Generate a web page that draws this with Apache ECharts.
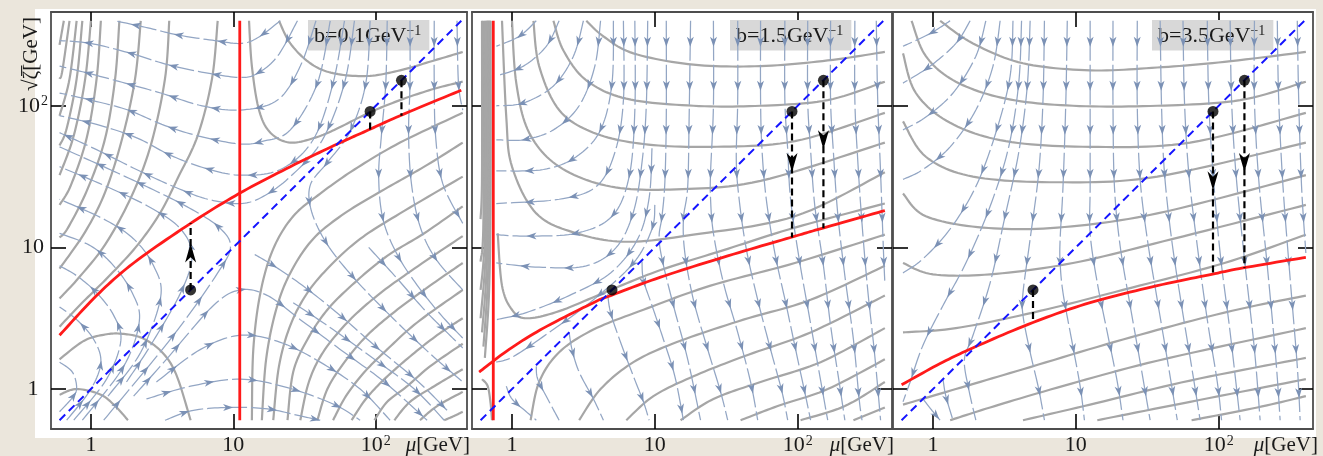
<!DOCTYPE html>
<html>
<head>
<meta charset="utf-8">
<script src="https://cdn.jsdelivr.net/npm/echarts@6.0.0/dist/echarts.min.js"></script>
<style>
html,body{margin:0;padding:0;background:#ebe6dc;}
#chart{width:1323px;height:456px;}
</style>
</head>
<body>
<div id="chart"></div>
<script>
// All coordinates are [log10(mu/GeV), log10(sqrt(zeta)/GeV)].
const tickValues = [0, 1, 2];
const tickText = ['1', '10', '{b|10}{s|2}'];
const panelB = ['0.1', '1.5', '3.5'];
const diagonal = [[-0.22, -0.22], [2.6, 2.6]];
const dotMu = [0.7, 1.96, 2.18];

// ---------------- panel 1 (b = 0.1) ----------------
const p1RedVertical = [[1.045, -0.22], [1.045, 2.6]];
const p1Red = [[-0.22,0.38],[0.04,0.66],[0.3,0.89],[0.7,1.17],[1.04,1.38],[1.4,1.57],[1.73,1.73],[1.95,1.83],[2.17,1.93],[2.6,2.11]];
const p1DashEnd = [1.17, 1.83, 1.93];
const p1Heads = [[0.7, 0.96, 1]];
const p1Contours = [
 [[0.89,2.6],[0.85,2.19],[0.75,1.79],[0.61,1.49],[0.49,1.25],[0.33,1.02],[0.14,0.81],[-0.07,0.6],[-0.22,0.44]],
 [[0.55,2.6],[0.52,2.19],[0.42,1.72],[0.28,1.35],[0.1,1.02],[-0.09,0.78],[-0.22,0.64]],
 [[0.35,2.6],[0.31,2.19],[0.22,1.77],[0.1,1.39],[-0.04,1.11],[-0.22,0.85]],
 [[0.2,2.6],[0.17,2.19],[0.1,1.77],[-0.02,1.42],[-0.16,1.14],[-0.22,1.07]],
 [[0.07,2.6],[0.04,2.19],[-0.03,1.77],[-0.14,1.44],[-0.22,1.3]],
 [[0,2.6],[-0.04,2.19],[-0.12,1.79],[-0.22,1.51]],
 [[-0.06,2.6],[-0.1,2.19],[-0.17,1.84],[-0.22,1.72]],
 [[-0.1,2.6],[-0.15,2.19],[-0.22,1.93]],
 [[-0.15,2.6],[-0.2,2.25],[-0.22,2.19]],
 [[-0.19,2.6],[-0.22,2.43]],
 [[-0.22,-0.04],[-0.1,0],[0.07,-0.04],[0.18,-0.13],[0.26,-0.22]],
 [[-0.22,0.21],[-0.05,0.34],[0.1,0.385],[0.22,0.39],[0.36,0.36],[0.5,0.26],[0.6,0.1],[0.7,-0.22]],
 [[1.32,2.6],[1.4,2.44],[1.54,2.3],[1.7,2.23],[1.94,2.21],[2.17,2.25],[2.41,2.32],[2.61,2.38]],
 [[1.11,2.6],[1.13,2.28],[1.18,1.97],[1.26,1.81],[1.4,1.74],[1.59,1.78],[1.75,1.85],[1.95,1.95],[2.17,2.04],[2.41,2.12],[2.61,2.17]],
 [[1.13,-0.22],[1.14,0.28],[1.19,0.68],[1.28,0.99],[1.42,1.22],[1.61,1.38],[1.85,1.55],[2.17,1.74],[2.61,1.95]],
 [[1.2,-0.22],[1.23,0.21],[1.3,0.56],[1.4,0.82],[1.56,1.06],[1.78,1.24],[2.06,1.41],[2.34,1.57],[2.61,1.74]],
 [[1.28,-0.22],[1.32,0.16],[1.4,0.45],[1.52,0.68],[1.68,0.87],[1.89,1.06],[2.17,1.24],[2.61,1.5]],
 [[1.38,-0.22],[1.42,0.12],[1.52,0.35],[1.66,0.56],[1.85,0.75],[2.08,0.94],[2.34,1.1],[2.61,1.29]],
 [[1.47,-0.22],[1.53,0.05],[1.63,0.26],[1.8,0.47],[2.01,0.66],[2.27,0.85],[2.61,1.08]],
 [[1.59,-0.22],[1.66,0],[1.78,0.19],[1.94,0.38],[2.15,0.56],[2.38,0.73],[2.61,0.89]],
 [[1.7,-0.22],[1.79,-0.05],[1.92,0.12],[2.08,0.28],[2.29,0.47],[2.61,0.7]],
 [[1.83,-0.22],[1.93,-0.07],[2.06,0.07],[2.24,0.23],[2.43,0.38],[2.61,0.5]],
 [[1.99,-0.22],[2.08,-0.09],[2.22,0.02],[2.38,0.16],[2.61,0.32]],
 [[2.13,-0.22],[2.24,-0.09],[2.41,0.02],[2.61,0.14]],
 [[2.31,-0.22],[2.43,-0.12],[2.61,-0.02]],
 [[2.48,-0.22],[2.55,-0.19],[2.61,-0.16]]
];
const p1Streams = [
 [[1.33,2.6],[1.17,2.48],[1.05,2.44],[0.87,2.46],[0.61,2.5],[0.4,2.55],[0.17,2.6]],
 [[1.45,2.6],[1.31,2.35],[1.17,2.23],[1.05,2.2],[0.82,2.23],[0.54,2.29],[0.28,2.37],[0,2.44],[-0.22,2.46]],
 [[1.58,2.6],[1.47,2.28],[1.31,2.04],[1.05,1.97],[0.78,2.0],[0.49,2.09],[0.24,2.16],[-0.02,2.23],[-0.22,2.28]],
 [[1.68,2.6],[1.59,2.16],[1.4,1.83],[1.21,1.75],[1.05,1.73],[0.78,1.78],[0.52,1.86],[0.26,1.97],[0,2.04],[-0.22,2.09]],
 [[1.78,2.6],[1.7,2.16],[1.56,1.76],[1.33,1.55],[1.05,1.51],[0.8,1.56],[0.56,1.65],[0.33,1.77],[0.07,1.86],[-0.22,1.93]],
 [[1.85,2.6],[1.78,2.16],[1.62,1.75],[1.4,1.5],[1.21,1.36],[1.05,1.31],[0.82,1.34],[0.58,1.43],[0.32,1.55],[0.04,1.69],[-0.22,1.81]],
 [[0.09,-0.22],[0.58,0.38],[0.89,0.82],[0.98,1.01],[0.89,1.15],[0.67,1.29],[0.39,1.43],[0.09,1.57],[-0.22,1.71]],
 [[0.25,0.05],[0.42,0.31],[0.63,0.68],[0.71,0.94],[0.63,1.13],[0.42,1.28],[0.11,1.43],[-0.22,1.57]],
 [[0.12,-0.05],[0.35,0.26],[0.49,0.65],[0.44,0.87],[0.3,1.06],[0.09,1.2],[-0.22,1.34]],
 [[-0.06,-0.22],[0.23,0.16],[0.34,0.48],[0.29,0.68],[0.16,0.87],[0,1.01],[-0.22,1.1]],
 [[-0.12,-0.22],[0.11,0.07],[0.21,0.34],[0.16,0.52],[0.04,0.68],[-0.1,0.8],[-0.22,0.87]],
 [[-0.17,-0.22],[0,0],[0.07,0.19],[0.02,0.35],[-0.1,0.49],[-0.22,0.58]],
 [[-0.22,-0.16],[-0.13,-0.06],[-0.1,0.01],[-0.13,0.12],[-0.22,0.19]],
 [[0.3,-0.05],[0.53,0.21],[0.86,0.59],[1.05,0.7],[1.24,0.66],[1.47,0.49],[1.75,0.28],[2.06,0.05],[2.36,-0.22]],
 [[0.46,0.05],[0.77,0.28],[1.05,0.38],[1.33,0.33],[1.61,0.19],[1.89,0],[2.1,-0.22]],
 [[0.39,-0.07],[0.7,0.02],[1.05,0.07],[1.38,0.01],[1.71,-0.11],[1.89,-0.22]],
 [[0.52,-0.22],[0.72,-0.15],[0.98,-0.13],[1.24,-0.14],[1.47,-0.19],[1.61,-0.22]],
 [[1.96,2.6],[1.93,2.16],[1.82,1.82],[1.66,1.6],[1.54,1.44],[1.55,1.25],[1.66,1.02],[1.85,0.78],[2.1,0.52],[2.37,0.26],[2.61,0.05]],
 [[2.08,2.6],[2.07,2.16],[2.04,1.8],[2.02,1.5],[2.05,1.2],[2.15,0.95],[2.3,0.72],[2.46,0.52],[2.61,0.36]],
 [[2.24,2.6],[2.24,2.16],[2.23,1.8],[2.25,1.45],[2.31,1.15],[2.42,0.92],[2.61,0.7]],
 [[2.41,2.6],[2.41,2.16],[2.42,1.78],[2.47,1.45],[2.61,1.17]],
 [[2.57,2.6],[2.58,2.16],[2.61,1.97]],
 [[1.15,0.95],[1.3,0.86],[1.5,0.72],[1.75,0.52],[2.0,0.3],[2.3,0.05],[2.5,-0.15]],
 [[1.42,0.61],[1.7,0.42],[1.99,0.21],[2.27,0],[2.48,-0.22]],
 [[1.95,1.0],[2.15,0.78],[2.35,0.55],[2.55,0.35],[2.61,0.29]]
];

// ---------------- panel 2 (b = 1.5) ----------------
const p2RedVertical = [[-0.131, -0.22], [-0.131, 2.6]];
const p2Red = [[-0.23,0.12],[-0.02,0.28],[0.22,0.43],[0.57,0.61],[0.69,0.66],[1.04,0.79],[1.51,0.94],[1.95,1.07],[2.17,1.135],[2.61,1.26]];
const p2DashEnd = [0.66, 1.07, 1.135];
const p2Heads = [[1.96, 1.6, -1], [2.18, 1.76, -1]];
const p2Contours = [
 [[0.52,2.6],[0.64,2.49],[0.85,2.37],[1.27,2.29],[1.74,2.28],[2.21,2.32],[2.61,2.38]],
 [[0.29,2.6],[0.36,2.39],[0.52,2.18],[0.8,2.05],[1.27,2.0],[1.74,2.0],[2.21,2.04],[2.61,2.17]],
 [[0.15,2.6],[0.19,2.28],[0.33,1.97],[0.57,1.81],[0.92,1.73],[1.39,1.71],[1.98,1.75],[2.61,1.95]],
 [[0,2.6],[0.03,2.16],[0.12,1.81],[0.33,1.57],[0.69,1.43],[1.15,1.41],[1.74,1.47],[2.61,1.74]],
 [[-0.07,2.6],[-0.04,1.92],[0,1.57],[0.17,1.24],[0.45,1.1],[0.8,1.04],[1.27,1.09],[1.98,1.22],[2.61,1.53]],
 [[-0.1,1.1],[-0.07,0.73],[0,0.56],[0.1,0.5],[0.33,0.55],[0.69,0.7],[1.04,0.84],[1.51,0.99],[1.98,1.14],[2.61,1.31]],
 [[0.13,-0.22],[0.19,0.05],[0.33,0.26],[0.57,0.42],[0.92,0.56],[1.39,0.73],[1.98,0.89],[2.61,1.09]],
 [[0.47,-0.22],[0.62,0],[0.85,0.19],[1.15,0.33],[1.62,0.49],[2.09,0.63],[2.61,0.87]],
 [[0.8,-0.22],[0.99,-0.05],[1.27,0.09],[1.62,0.23],[2.09,0.4],[2.61,0.66]],
 [[1.18,-0.22],[1.41,-0.07],[1.74,0.05],[2.16,0.19],[2.61,0.43]],
 [[1.6,-0.22],[1.86,-0.12],[2.21,0],[2.61,0.21]],
 [[2.02,-0.22],[2.33,-0.12],[2.61,0.05]],
 [[2.39,-0.22],[2.61,-0.13]],
 [[-0.15,2.6],[-0.15,1.4],[-0.16,0.7],[-0.19,0.22]],
 [[-0.155,2.6],[-0.155,1.5],[-0.165,0.9]],
 [[-0.16,2.6],[-0.16,1.3],[-0.17,0.75],[-0.2,0.3]],
 [[-0.165,2.6],[-0.165,1.5],[-0.175,1.0]],
 [[-0.17,2.6],[-0.17,1.3],[-0.18,0.8],[-0.21,0.4]],
 [[-0.175,2.6],[-0.175,1.6],[-0.185,1.1]],
 [[-0.18,2.6],[-0.18,1.2],[-0.19,0.85],[-0.22,0.5]],
 [[-0.19,2.6],[-0.19,1.2],[-0.2,0.9],[-0.22,0.7]],
 [[-0.2,2.6],[-0.2,1.2],[-0.22,0.9]],
 [[-0.21,2.6],[-0.21,1.5],[-0.22,1.2]],
 [[-0.21,0.07],[-0.17,0.02],[-0.15,-0.1],[-0.14,-0.22]]
];
const p2Streams = [
 [[0.17,2.6],[0.05,2.49],[-0.11,2.42]],
 [[0.33,2.6],[0.24,2.42],[0.08,2.28],[-0.11,2.21]],
 [[0.5,2.6],[0.43,2.35],[0.29,2.14],[0.08,2.02],[-0.11,2.0]],
 [[0.62,2.6],[0.58,2.28],[0.47,2.0],[0.29,1.83],[0.08,1.76],[-0.11,1.76]],
 [[0.71,2.6],[0.7,2.16],[0.62,1.83],[0.45,1.64],[0.22,1.55],[-0.11,1.54]],
 [[0.78,2.6],[0.78,2.04],[0.72,1.67],[0.59,1.43],[0.33,1.34],[-0.11,1.31]],
 [[0.86,2.6],[0.86,1.97],[0.82,1.5],[0.7,1.22],[0.45,1.1],[0.1,1.08],[-0.11,1.09]],
 [[0.95,2.6],[0.94,2.0],[0.91,1.6],[0.85,1.25],[0.73,1.0],[0.52,0.87],[0.19,0.86],[-0.11,0.89]],
 [[0.98,1.7],[0.96,1.35],[0.88,1.06],[0.69,0.82],[0.4,0.66],[0.1,0.54],[-0.11,0.49]],
 [[1.0,1.3],[0.98,1.13],[0.85,0.89],[0.57,0.63],[0.26,0.4],[0.01,0.23],[-0.11,0.19]],
 [[1.08,2.6],[1.08,1.92],[1.07,1.46],[1.05,1.22],[1.03,1.08],[1.05,0.92],[1.13,0.59],[1.23,0.21],[1.32,-0.22]],
 [[1.25,2.6],[1.24,1.92],[1.23,1.43],[1.2,1.2],[1.21,0.96],[1.27,0.63],[1.37,0.28],[1.46,-0.02],[1.51,-0.22]],
 [[1.41,2.6],[1.41,2.0],[1.39,1.53],[1.39,1.34],[1.41,1.1],[1.48,0.75],[1.58,0.4],[1.67,0.05],[1.72,-0.22]],
 [[1.58,2.6],[1.58,2.04],[1.57,1.62],[1.59,1.34],[1.64,0.99],[1.72,0.63],[1.81,0.28],[1.89,-0.02],[1.93,-0.22]],
 [[1.74,2.6],[1.74,2.04],[1.75,1.69],[1.78,1.34],[1.84,0.96],[1.92,0.59],[2.0,0.21],[2.07,-0.12],[2.09,-0.22]],
 [[1.91,2.6],[1.91,2.04],[1.93,1.69],[1.95,1.34],[2.01,0.92],[2.08,0.52],[2.15,0.12],[2.21,-0.22]],
 [[2.07,2.6],[2.07,2.04],[2.09,1.69],[2.12,1.29],[2.18,0.87],[2.23,0.45],[2.29,0.05],[2.33,-0.22]],
 [[2.23,2.6],[2.23,2.04],[2.25,1.67],[2.28,1.24],[2.33,0.8],[2.39,0.35],[2.43,-0.07],[2.45,-0.22]],
 [[2.4,2.6],[2.4,2.04],[2.42,1.62],[2.45,1.17],[2.49,0.7],[2.54,0.23],[2.58,-0.22]],
 [[2.55,2.6],[2.56,2.04],[2.58,1.53],[2.6,0.98],[2.61,0.75]],
 [[-0.04,0.02],[0,-0.07],[0.1,-0.16],[0.17,-0.22]],
 [[0.17,0.16],[0.18,0.07],[0.25,-0.07],[0.33,-0.22]],
 [[0.4,0.4],[0.42,0.28],[0.47,0.12],[0.57,-0.07],[0.64,-0.22]],
 [[0.67,0.67],[0.69,0.54],[0.76,0.33],[0.85,0.09],[0.92,-0.09],[0.96,-0.22]],
 [[0.91,0.9],[0.92,0.77],[0.98,0.59],[1.06,0.35],[1.14,0.09],[1.2,-0.22]]
];

// ---------------- panel 3 (b = 3.5) ----------------
const p3Red = [[-0.22,0.03],[0.05,0.18],[0.3,0.3],[0.7,0.47],[1.1,0.61],[1.57,0.73],[1.95,0.81],[2.17,0.855],[2.61,0.93]];
const p3DashEnd = [0.47, 0.81, 0.855];
const p3Heads = [[1.96, 1.47, -1], [2.18, 1.6, -1]];
const p3Contours = [
 [[0.05,2.6],[0.28,2.44],[0.63,2.3],[1.1,2.25],[1.57,2.27],[2.04,2.31],[2.61,2.38]],
 [[-0.15,2.6],[-0.05,2.35],[0.16,2.17],[0.51,2.05],[0.98,2.0],[1.57,2.0],[2.15,2.04],[2.61,2.17]],
 [[-0.21,2.37],[-0.12,2.09],[0.12,1.88],[0.51,1.75],[1.1,1.71],[1.8,1.74],[2.61,1.95]],
 [[-0.21,1.89],[-0.05,1.64],[0.28,1.5],[0.87,1.46],[1.57,1.5],[2.61,1.74]],
 [[-0.21,1.38],[-0.05,1.22],[0.35,1.14],[0.87,1.14],[1.57,1.24],[2.61,1.51]],
 [[-0.21,0.89],[0,0.81],[0.4,0.81],[0.98,0.89],[1.68,1.06],[2.61,1.3]],
 [[-0.21,0.4],[0.16,0.43],[0.7,0.54],[1.33,0.7],[2.04,0.89],[2.61,1.09]],
 [[-0.21,-0.11],[0.16,0],[0.63,0.14],[1.33,0.35],[2.04,0.54],[2.61,0.66]],
 [[0.12,-0.22],[0.4,-0.13],[0.87,0.01],[1.57,0.2],[2.61,0.43]],
 [[0.63,-0.22],[1.1,-0.11],[1.8,0.06],[2.61,0.22]],
 [[1.15,-0.22],[1.8,-0.09],[2.61,0.07]],
 [[1.81,-0.22],[2.27,-0.13],[2.61,-0.05]]
];
const p3Streams = [
 [[0.12,2.6],[-0.02,2.51],[-0.21,2.42]],
 [[0.26,2.6],[0.16,2.44],[-0.02,2.28],[-0.21,2.16]],
 [[0.37,2.6],[0.3,2.35],[0.14,2.09],[-0.05,1.92],[-0.21,1.83]],
 [[0.47,2.6],[0.42,2.28],[0.3,1.97],[0.12,1.71],[-0.07,1.55],[-0.21,1.48]],
 [[0.56,2.6],[0.54,2.21],[0.44,1.81],[0.3,1.43],[0.12,1.13],[-0.07,0.92],[-0.21,0.82]],
 [[0.62,2.6],[0.6,2.16],[0.53,1.71],[0.4,1.29],[0.23,0.89],[0.07,0.59],[-0.07,0.31],[-0.16,0.05],[-0.21,-0.09]],
 [[0.68,2.6],[0.66,2.14],[0.6,1.67],[0.5,1.2],[0.4,0.75],[0.28,0.38],[0.22,0.21],[0.25,0],[0.3,-0.22]],
 [[0.78,2.6],[0.77,2.04],[0.74,1.53],[0.68,1.06],[0.63,0.68],[0.63,0.52],[0.68,0.26],[0.74,0],[0.78,-0.22]],
 [[0.94,2.6],[0.93,2.04],[0.91,1.43],[0.89,1.06],[0.89,0.89],[0.91,0.68],[0.97,0.35],[1.03,0.02],[1.06,-0.22]],
 [[1.1,2.6],[1.1,1.99],[1.1,1.43],[1.1,1.1],[1.15,0.75],[1.22,0.4],[1.29,0.05],[1.33,-0.22]],
 [[1.26,2.6],[1.26,1.99],[1.27,1.43],[1.31,1.01],[1.38,0.59],[1.45,0.19],[1.52,-0.22]],
 [[1.43,2.6],[1.43,1.99],[1.45,1.48],[1.5,1.06],[1.57,0.63],[1.64,0.21],[1.71,-0.22]],
 [[1.59,2.6],[1.6,1.99],[1.62,1.53],[1.67,1.06],[1.74,0.59],[1.81,0.16],[1.87,-0.22]],
 [[1.75,2.6],[1.76,2.04],[1.79,1.53],[1.85,1.01],[1.92,0.49],[1.99,0.05],[2.02,-0.22]],
 [[1.92,2.6],[1.93,2.04],[1.96,1.53],[2.01,0.96],[2.08,0.4],[2.15,-0.22]],
 [[2.08,2.6],[2.09,2.04],[2.12,1.53],[2.18,0.92],[2.25,0.28],[2.29,-0.22]],
 [[2.25,2.6],[2.25,2.04],[2.28,1.48],[2.34,0.87],[2.4,0.21],[2.43,-0.22]],
 [[2.41,2.6],[2.42,2.04],[2.45,1.43],[2.5,0.78],[2.55,0.16],[2.57,-0.22]],
 [[2.55,2.6],[2.56,2.04],[2.58,1.43],[2.61,0.96]],
 [[-0.07,-0.07],[0,-0.16],[0.05,-0.22]],
 [[0.07,0.07],[0.09,-0.05],[0.14,-0.22]]
];

// ---------------- rendering ----------------
const SERIF = '"Liberation Serif","DejaVu Serif",serif';
const STREAM = '#93a6c4', ARROW = '#7b91b5', GREY = '#a6a6a6', RED = '#ff1a1a';
const panels = [
  {left: 51, width: 416, xmax: 2.64},
  {left: 472, width: 420, xmax: 2.66},
  {left: 893, width: 420, xmax: 2.66}
];
const boxLeft = [308, 730, 1152];

function smoothPath(pts) {
  if (pts.length < 3) return pts;
  const out = [], n = 12;
  for (let i = 0; i < pts.length - 1; i++) {
    const p0 = pts[i > 0 ? i - 1 : i], p1 = pts[i], p2 = pts[i + 1], p3 = pts[i + 2 < pts.length ? i + 2 : i + 1];
    for (let k = 0; k < n; k++) {
      const t = k / n, t2 = t * t, t3 = t2 * t;
      const f = (a, b, c, d) => 0.5 * (2 * b + (-a + c) * t + (2 * a - 5 * b + 4 * c - d) * t2 + (-a + 3 * b - 3 * c + d) * t3);
      out.push([f(p0[0], p1[0], p2[0], p3[0]), f(p0[1], p1[1], p2[1], p3[1])]);
    }
  }
  out.push(pts[pts.length - 1]);
  return out;
}
function arrowHead(x, y, ux, uy, len, wid, color) {
  const nx = -uy, ny = ux;
  const tip = [x + ux * len * 0.5, y + uy * len * 0.5];
  const bx = x - ux * len * 0.5, by = y - uy * len * 0.5;
  const notch = [x - ux * len * 0.22, y - uy * len * 0.22];
  return {type: 'polygon', shape: {points: [tip, [bx + nx * wid / 2, by + ny * wid / 2], notch, [bx - nx * wid / 2, by - ny * wid / 2]]},
          style: {fill: color}};
}
function curveSeries(pi, lines, color, width, z) {
  return {type: 'custom', xAxisIndex: 2 * pi, yAxisIndex: 2 * pi, z: z, clip: true, silent: true,
    data: lines.map((l, i) => [l[0][0], l[0][1], i]),
    renderItem: (params, api) => {
      const pts = smoothPath(lines[params.dataIndex].map(p => api.coord(p)));
      return {type: 'polyline', shape: {points: pts}, style: {stroke: color, lineWidth: width, fill: null}};
    }};
}
function streamSeries(pi, lines) {
  return {type: 'custom', xAxisIndex: 2 * pi, yAxisIndex: 2 * pi, z: 3, clip: true, silent: true,
    data: lines.map((l, i) => [l[0][0], l[0][1], i]),
    renderItem: (params, api) => {
      const pts = smoothPath(lines[params.dataIndex].map(p => api.coord(p)));
      const seg = []; let total = 0;
      for (let i = 1; i < pts.length; i++) {
        const L = Math.hypot(pts[i][0] - pts[i - 1][0], pts[i][1] - pts[i - 1][1]);
        seg.push(L); total += L;
      }
      const children = [{type: 'polyline', shape: {points: pts},
        style: {stroke: STREAM, lineWidth: 1.25, fill: null, lineDash: [40, 4]}}];
      let acc = 0, next = 21;
      for (let i = 1; i < pts.length; i++) {
        const L = seg[i - 1];
        while (L > 0 && next <= acc + L && next < total - 5) {
          const t = (next - acc) / L;
          const ux = (pts[i][0] - pts[i - 1][0]) / L, uy = (pts[i][1] - pts[i - 1][1]) / L;
          children.push(arrowHead(pts[i - 1][0] + ux * L * t, pts[i - 1][1] + uy * L * t, ux, uy, 10, 7, ARROW));
          next += 44;
        }
        acc += L;
      }
      return {type: 'group', children};
    }};
}
function lineSeries(pi, data, color, width, dash, z) {
  return {type: 'line', xAxisIndex: 2 * pi, yAxisIndex: 2 * pi, data, showSymbol: false,
    silent: true, z, clip: true, lineStyle: {color, width, type: dash || 'solid'}};
}
function headSeries(pi, heads) {
  return {type: 'custom', xAxisIndex: 2 * pi, yAxisIndex: 2 * pi, z: 9, silent: true, data: heads,
    renderItem: (params, api) => {
      const p = api.coord([api.value(0), api.value(1)]);
      return arrowHead(p[0], p[1], 0, -api.value(2), 19, 11, '#000');
    }};
}
function blackSeries(pi, dashEnd, heads) {
  const out = [];
  dotMu.forEach((m, i) => {
    if (Math.abs(dashEnd[i] - m) > 0.06)
      out.push(lineSeries(pi, [[m, m], [m, dashEnd[i]]], '#000', 2.2, [7, 4], 8));
  });
  out.push(headSeries(pi, heads));
  out.push({type: 'scatter', xAxisIndex: 2 * pi, yAxisIndex: 2 * pi, z: 10, silent: true,
    data: dotMu.map(m => [m, m]), symbolSize: 11, itemStyle: {color: '#000'}});
  return out;
}

const labelRich = {
  b: {fontFamily: SERIF, fontSize: 22, color: '#1a1a1a'},
  s: {fontFamily: SERIF, fontSize: 14, color: '#1a1a1a', verticalAlign: 'top', padding: [0, 0, 0, 1]}
};
function fmt(v) { return tickText[Math.round(v)]; }
const xAxes = [], yAxes = [];
panels.forEach((p, i) => {
  const line = {show: true, onZero: false, lineStyle: {color: '#4d4d4d', width: 1.8}};
  const tick = {show: true, inside: true, length: 15, customValues: tickValues, lineStyle: {color: '#000', width: 1.6}};
  xAxes.push({type: 'value', gridIndex: i, position: 'bottom', min: -0.28, max: p.xmax,
    splitLine: {show: false}, axisLine: line, axisTick: tick,
    axisLabel: {show: true, customValues: tickValues, formatter: fmt, margin: 5, fontFamily: SERIF, fontSize: 22,
      color: '#1a1a1a', rich: labelRich}});
  xAxes.push({type: 'value', gridIndex: i, position: 'top', min: -0.28, max: p.xmax,
    splitLine: {show: false}, axisLine: line, axisTick: tick, axisLabel: {show: false}});
  yAxes.push({type: 'value', gridIndex: i, position: 'left', min: -0.282, max: 2.662,
    splitLine: {show: false}, axisLine: line, axisTick: tick,
    axisLabel: {show: i === 0, customValues: tickValues, formatter: fmt, margin: 18, align: 'center',
      fontFamily: SERIF, fontSize: 22, color: '#1a1a1a', rich: labelRich}});
  yAxes.push({type: 'value', gridIndex: i, position: 'right', min: -0.282, max: 2.662,
    splitLine: {show: false}, axisLine: line, axisTick: tick, axisLabel: {show: false}});
});

const series = [
  curveSeries(0, p1Contours, GREY, 2.2, 2), streamSeries(0, p1Streams),
  lineSeries(0, p1RedVertical, RED, 2.8, null, 5),
  curveSeries(0, [p1Red], RED, 2.8, 5),
  lineSeries(0, diagonal, '#1414ff', 2, [8, 5], 6),
  ...blackSeries(0, p1DashEnd, p1Heads),

  curveSeries(1, p2Contours, GREY, 2.2, 2), streamSeries(1, p2Streams),
  lineSeries(1, p2RedVertical, RED, 2.8, null, 5),
  curveSeries(1, [p2Red], RED, 2.8, 5),
  lineSeries(1, diagonal, '#1414ff', 2, [8, 5], 6),
  ...blackSeries(1, p2DashEnd, p2Heads),

  curveSeries(2, p3Contours, GREY, 2.2, 2), streamSeries(2, p3Streams),
  curveSeries(2, [p3Red], RED, 2.8, 5),
  lineSeries(2, diagonal, '#1414ff', 2, [8, 5], 6),
  ...blackSeries(2, p3DashEnd, p3Heads)
];

const chart = echarts.init(document.getElementById('chart'), null, {renderer: 'canvas'});
chart.setOption({
  animation: false,
  backgroundColor: '#ebe6dc',
  grid: panels.map(p => ({left: p.left, top: 12, width: p.width, height: 418, show: true,
    backgroundColor: '#ffffff', borderWidth: 0})),
  xAxis: xAxes,
  yAxis: yAxes,
  title: panelB.map((b, i) => ({
    text: '{t|b=' + b + 'GeV}{s|\u22121}', left: boxLeft[i], top: 20, z: 1,
    backgroundColor: '#d8d8d8', padding: [4, 8, 3, 6],
    textStyle: {fontWeight: 'normal', rich: {
      t: {fontFamily: SERIF, fontSize: 22, lineHeight: 25, fontWeight: 'normal', color: '#1a1a1a'},
      s: {fontFamily: SERIF, fontSize: 14, lineHeight: 14, fontWeight: 'normal', color: '#1a1a1a', verticalAlign: 'top'}
    }}
  })),
  graphic: [
    {type: 'rect', z: -10, silent: true, shape: {x: 35, y: 9, width: 1281, height: 429}, style: {fill: '#ffffff'}},
    {type: 'text', silent: true, x: 31, y: 54, rotation: Math.PI / 2,
      style: {text: '\u221A\u03B6\u0305[GeV]', font: '21px ' + SERIF, fill: '#1a1a1a', align: 'center', verticalAlign: 'middle'}},
    ...[470, 894, 1318].map(x => ({type: 'text', silent: true, x: x, y: 445,
      style: {text: '{i|\u03BC}[GeV]', font: '21px ' + SERIF, fill: '#1a1a1a', align: 'right', verticalAlign: 'middle',
        rich: {i: {fontStyle: 'italic', fontFamily: SERIF, fontSize: 21, fill: '#1a1a1a'}}}}))
  ],
  series
});
</script>
</body>
</html>
